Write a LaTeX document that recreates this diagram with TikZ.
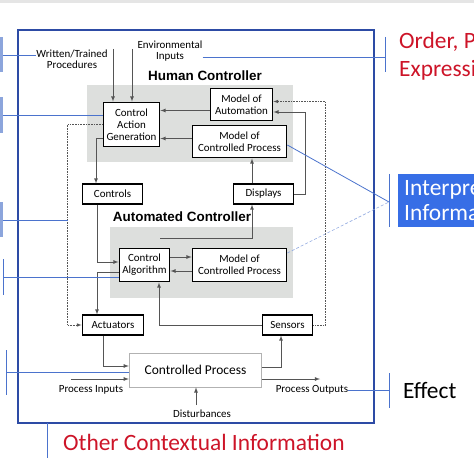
\documentclass[tikz,border=0pt]{standalone}
\usepackage{fontspec}
\setmainfont{Carlito}
\newfontfamily\headfont{Liberation Sans}
\usepackage{tikz}
\usetikzlibrary{positioning, calc, arrows}
\definecolor{annblue}{RGB}{75,115,205}
\definecolor{frameblue}{RGB}{45,75,165}
\definecolor{stubblue}{RGB}{140,165,220}
\definecolor{fillblue}{RGB}{55,110,230}
\definecolor{ctxred}{RGB}{205,20,40}
\definecolor{zonegray}{RGB}{221,223,221}
\definecolor{linegray}{RGB}{85,85,85}

\begin{document}
\begin{tikzpicture}[x=1bp, y=-1bp,
    ctlbox/.style={draw=black, line width=1.1pt, fill=white, align=center, inner sep=0pt,
                   font=\fontsize{11}{11.8}\selectfont},
    zone/.style={fill=zonegray, draw=none},
    conn/.style={draw=linegray, line width=0.8pt, -latex},
    dotconn/.style={draw=linegray, line width=0.6pt, densely dotted, -latex},
    lbl/.style={align=center, inner sep=0pt, font=\fontsize{11}{11}\selectfont},
    ann/.style={draw=annblue, line width=0.8pt},
    redtxt/.style={text=ctxred, inner sep=0pt, align=left, font=\fontsize{23.5}{28}\selectfont}]
    \useasboundingbox (0,0) rectangle (474,474);
    \fill[black!10] (0,0) rectangle (474,3);

    % frame and gray zones
    \draw[frameblue, line width=1.2pt] (18,30) rectangle (374,423);
    \fill[zone] (87,85) rectangle (293,162);
    \fill[zone] (110,227) rectangle (293,298);
    \node[font=\headfont\bfseries\fontsize{13.5}{15}\selectfont, inner sep=0pt] (hctitle) at (205,76) {Human Controller};
    \node[font=\headfont\bfseries\fontsize{13.5}{15}\selectfont, inner sep=0pt] (actitle) at (182,217) {Automated Controller};

    % boxes
    \node[ctlbox, minimum width=57, minimum height=45] (cag) at (131.5,124.5) {Control\\Action\\Generation};
    \node[ctlbox, minimum width=63, minimum height=33] (moa) at (241.5,104.5) {Model of\\Automation};
    \node[ctlbox, minimum width=95, minimum height=33] (mcph) at (239.5,141.5) {Model of\\Controlled Process};
    \node[ctlbox, minimum width=61, minimum height=20] (controls) at (112.5,194) {Controls};
    \node[ctlbox, minimum width=61, minimum height=20] (displays) at (263.5,194) {Displays};
    \node[ctlbox, minimum width=51, minimum height=34] (calg) at (144.5,265) {Control\\Algorithm};
    \node[ctlbox, minimum width=95, minimum height=34] (mcpa) at (239.5,265) {Model of\\Controlled Process};
    \node[ctlbox, minimum width=62, minimum height=20] (act) at (113,325) {Actuators};
    \node[ctlbox, minimum width=51, minimum height=20] (sens) at (287.5,325) {Sensors};
    \node[ctlbox, draw=black!30, line width=0.8pt, minimum width=133, minimum height=34,
          font=\fontsize{13.5}{15}\selectfont] (cproc) at (195.5,370) {Controlled Process};

    % outside labels
    \node[lbl] (wtp) at (72,59) {Written/Trained\\Procedures};
    \node[lbl] (env) at (170,51.5) {Environmental\\Inputs};
    \node[lbl] (pinlbl) at (91,390) {Process Inputs};
    \node[lbl] (poutlbl) at (312,390) {Process Outputs};
    \node[lbl] (distlbl) at (202,414) {Disturbances};
    \coordinate (wtin) at (113,49);
    \coordinate (envin) at (132,49);
    \coordinate (pin) at (71,379);
    \coordinate (pout) at (320,379);
    \coordinate (distin) at (196,405);
    \coordinate (caup) at (160,238);

    % connectors
    \draw[conn] (wtin) -- (wtin |- cag.north);
    \draw[conn] (envin) -- (envin |- cag.north);
    \draw[conn] ([yshift=-6bp]moa.west) -- ([yshift=-6bp]moa.west -| cag.east);
    \draw[conn] ([yshift=3bp]mcph.west) -- ([yshift=3bp]mcph.west -| cag.east);
    \draw[dotconn] (sens.east) -- ++(12,0) |- ([yshift=3bp]moa.east);
    \draw[conn] (displays.east) -- ++(11,0) |- ([yshift=-7.5bp]moa.east);
    \draw[conn] ([xshift=-11.5bp]displays.north) -- ([xshift=-11.5bp]displays.north |- mcph.south);
    \draw[conn] ([yshift=-13.5bp]cag.west) -| ([xshift=-16.5bp]controls.north);
    \draw[dotconn] (cag.west) -- ++(-35,0) |- (act.west);
    \draw[conn] ([xshift=-15.5bp]controls.south) |- ([yshift=3bp]calg.west);
    \draw[conn] ([yshift=-7bp]calg.west) -| ([xshift=-16bp]act.north);
    \draw[conn] ([yshift=8bp]calg.east) -- ([yshift=8bp]calg.east -| mcpa.west);
    \draw[conn] ([yshift=-6bp]mcpa.west) -- ([yshift=-6bp]mcpa.west -| calg.east);
    \draw[conn] (caup) -| ([xshift=-11.5bp]displays.south);
    \draw[conn] (sens.west) -| ([xshift=14.5bp]calg.south);
    \draw[conn] ([xshift=-10bp]act.south) |- ([yshift=4bp]cproc.west);
    \draw[conn] (pin) -- (pin -| cproc.west);
    \draw[conn] (distin) -- (distin |- cproc.south);
    \draw[conn] (cproc.east |- pout) -- (pout);
    \draw[conn] ([yshift=3bp]cproc.east) -| ([xshift=-6.5bp]sens.south);

    % annotations, left
    \fill[stubblue] (0,37) rectangle (3,72);
    \fill[stubblue] (0,97) rectangle (3,133);
    \fill[stubblue] (0,202) rectangle (3,237);
    \draw[ann] (3,259) -- (3,295);
    \draw[ann] (6,350) -- (6,395);
    \draw[ann] (3,55) -- (wtp.west |- 0,55);
    \draw[ann] (3,115) -- (cag.west |- 0,115);
    \draw[ann] (3,220) -- (68,220);
    \draw[ann] (3,277) -- (calg.west |- 0,277);
    \draw[ann] (6,372) -- (cproc.west |- 0,372);

    % annotations, right and bottom
    \draw[ann] (385,37) -- (385,72);
    \draw[ann] (env.east |- 0,57) -- (385,57);
    \draw[ann] (389,174) -- (389,227);
    \coordinate (interpjoin) at (389,202);
    \draw[ann] ([yshift=-3.5bp]mcph.east) -- (interpjoin);
    \draw[ann, annblue!60, densely dashed, line width=0.6pt] ([yshift=12bp]mcpa.east) -- (interpjoin);
    \draw[ann] (389,373) -- (389,408);
    \draw[ann] (poutlbl.east) -- (389,390);
    \draw[ann] (47,423) -- (47,458);

    % context texts
    \node[redtxt, anchor=west] (order) at (399,56) {Order, P\\Expressi};
    \node[fill=fillblue, text=white, anchor=north west, minimum width=80, minimum height=53,
          inner xsep=6bp, inner ysep=0pt, align=left, font=\fontsize{23.5}{26}\selectfont] (interp) at (398,174) {Interpre\\Informa};
    \node[inner sep=0pt, anchor=west, font=\fontsize{23.5}{26}\selectfont] (effect) at (403,390) {Effect};
    \node[redtxt, anchor=west] (other) at (63,442) {Other Contextual Information};
\end{tikzpicture}
\end{document}
